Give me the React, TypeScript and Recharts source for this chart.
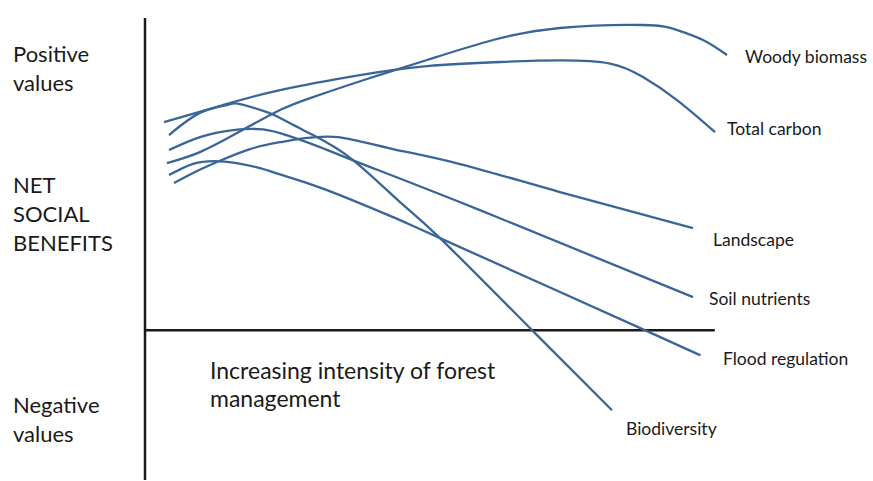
import { LineChart, Line, XAxis, YAxis, ReferenceLine } from 'recharts';

// x: intensity of forest management (0-100), y: net social benefit (negative below 0)
const woodyBiomass = [
  { x: 3.76, y: 53.5 }, { x: 9.4, y: 57.05 }, { x: 15.73, y: 63.14 }, { x: 23.08, y: 70.51 },
  { x: 28.72, y: 74.68 }, { x: 37.95, y: 80.45 }, { x: 48.21, y: 86.54 }, { x: 59.49, y: 92.95 },
  { x: 70.94, y: 96.79 }, { x: 85.13, y: 97.76 }, { x: 90.94, y: 96.15 }, { x: 95.38, y: 92.95 },
  { x: 99.49, y: 88.14 },
];

const totalCarbon = [
  { x: 3.25, y: 66.67 }, { x: 13.33, y: 72.12 }, { x: 23.08, y: 76.92 }, { x: 36.75, y: 81.73 },
  { x: 48.21, y: 84.6 }, { x: 60.68, y: 85.9 }, { x: 70.94, y: 86.4 }, { x: 79.49, y: 85.4 },
  { x: 85.13, y: 81.09 }, { x: 90.94, y: 73.72 }, { x: 97.44, y: 63.46 },
];

const landscape = [
  { x: 4.96, y: 47.12 }, { x: 8.55, y: 50.64 }, { x: 12.31, y: 53.85 }, { x: 17.95, y: 58.0 },
  { x: 23.08, y: 60.2 }, { x: 27.35, y: 61.54 }, { x: 31.11, y: 62.0 }, { x: 35.04, y: 61.22 },
  { x: 42.39, y: 58.01 }, { x: 53.85, y: 53.21 }, { x: 70.94, y: 44.23 }, { x: 93.68, y: 32.69 },
];

const soilNutrients = [
  { x: 4.1, y: 57.69 }, { x: 9.4, y: 61.86 }, { x: 15.04, y: 64.1 }, { x: 19.32, y: 64.42 },
  { x: 23.08, y: 63.14 }, { x: 29.91, y: 58.65 }, { x: 36.75, y: 53.53 }, { x: 57.26, y: 38.46 },
  { x: 93.68, y: 10.58 },
];

const floodRegulation = [
  { x: 4.1, y: 49.68 }, { x: 8.21, y: 53.3 }, { x: 11.97, y: 54.17 }, { x: 15.38, y: 53.6 },
  { x: 19.66, y: 51.92 }, { x: 23.08, y: 49.9 }, { x: 31.11, y: 44.87 }, { x: 42.39, y: 36.22 },
  { x: 50.43, y: 29.49 }, { x: 85.81, y: -0.32 }, { x: 94.87, y: -8.01 },
];

const biodiversity = [
  { x: 4.1, y: 62.5 }, { x: 9.4, y: 69.6 }, { x: 14.02, y: 72.12 }, { x: 16.24, y: 72.44 },
  { x: 20.85, y: 69.87 }, { x: 23.08, y: 67.95 }, { x: 28.72, y: 62.5 }, { x: 35.56, y: 54.49 },
  { x: 43.59, y: 41.03 }, { x: 50.43, y: 29.49 }, { x: 66.32, y: -0.32 }, { x: 79.83, y: -25.64 },
];

const seriesList = [woodyBiomass, totalCarbon, landscape, soilNutrients, floodRegulation, biodiversity];

const seriesLabels = [
  { text: 'Woody biomass', x: 745, y: 63 },
  { text: 'Total carbon', x: 727, y: 135 },
  { text: 'Landscape', x: 713, y: 246 },
  { text: 'Soil nutrients', x: 709, y: 305 },
  { text: 'Flood regulation', x: 723, y: 365 },
  { text: 'Biodiversity', x: 626, y: 435 },
];

const sideLabels = [
  { text: 'Positive', x: 13, y: 62 },
  { text: 'values', x: 13, y: 91 },
  { text: 'NET', x: 13, y: 193 },
  { text: 'SOCIAL', x: 13, y: 222 },
  { text: 'BENEFITS', x: 13, y: 251 },
  { text: 'Negative', x: 13, y: 413 },
  { text: 'values', x: 13, y: 442 },
];

const xTitle = [
  { text: 'Increasing intensity of forest', x: 210, y: 379 },
  { text: 'management', x: 210, y: 407 },
];

const LINE_COLOR = '#3a6598';
const TEXT_COLOR = '#1a1a1a';
const FONT = 'Lato, "Open Sans", sans-serif';

export default function App() {
  return (
    <div style={{ position: 'absolute', left: 0, top: 0, width: 873, height: 481, background: '#fff' }}>
      <LineChart width={873} height={481} margin={{ top: 18, right: 143, bottom: 1, left: 145 }}>
        <XAxis type="number" dataKey="x" domain={[0, 100]} hide allowDataOverflow />
        <YAxis type="number" domain={[-48, 100]} hide allowDataOverflow />
        <ReferenceLine x={0} stroke={TEXT_COLOR} strokeWidth={2.5} />
        <ReferenceLine segment={[{ x: 0, y: 0 }, { x: 97.4, y: 0 }]} stroke={TEXT_COLOR} strokeWidth={2.5} />
        {seriesList.map((d, i) => (
          <Line
            key={i}
            data={d}
            dataKey="y"
            type="natural"
            stroke={LINE_COLOR}
            strokeWidth={2.3}
            dot={false}
            activeDot={false}
            isAnimationActive={false}
          />
        ))}
      </LineChart>
      <svg width={873} height={481} style={{ position: 'absolute', left: 0, top: 0, pointerEvents: 'none' }}>
        {seriesLabels.map((l) => (
          <text key={l.text} x={l.x} y={l.y} fontFamily={FONT} fontSize={17.5} fill={TEXT_COLOR}>
            {l.text}
          </text>
        ))}
        {sideLabels.map((l, i) => (
          <text key={i} x={l.x} y={l.y} fontFamily={FONT} fontSize={22} fill={TEXT_COLOR}>
            {l.text}
          </text>
        ))}
        {xTitle.map((l, i) => (
          <text key={i} x={l.x} y={l.y} fontFamily={FONT} fontSize={23} fill={TEXT_COLOR}>
            {l.text}
          </text>
        ))}
      </svg>
    </div>
  );
}
